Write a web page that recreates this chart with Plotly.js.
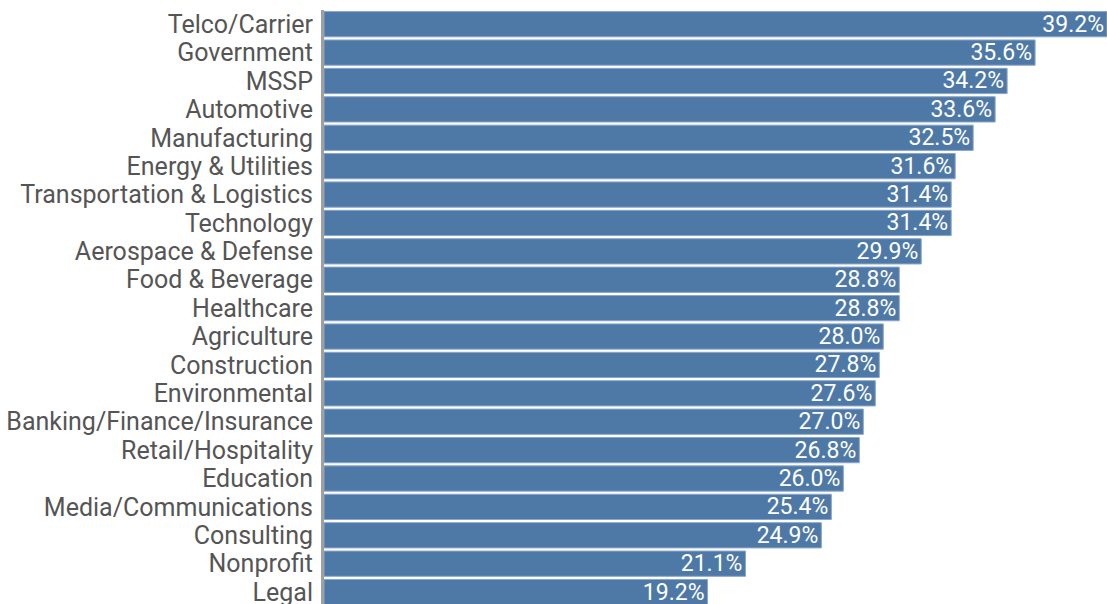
<!DOCTYPE html>
<html>
<head>
<meta charset="utf-8">
<script src="https://cdn.plot.ly/plotly-3.0.1.min.js"></script>
<style>html,body{margin:0;padding:0;background:#fff;}#chart{width:1107px;height:604px;}</style>
</head>
<body>
<div id="chart"></div>
<script>
const categories = ["Telco/Carrier","Government","MSSP","Automotive","Manufacturing","Energy & Utilities","Transportation & Logistics","Technology","Aerospace & Defense","Food & Beverage","Healthcare","Agriculture","Construction","Environmental","Banking/Finance/Insurance","Retail/Hospitality","Education","Media/Communications","Consulting","Nonprofit","Legal"];
const values = [39.2,35.6,34.2,33.6,32.5,31.6,31.4,31.4,29.9,28.8,28.8,28.0,27.8,27.6,27.0,26.8,26.0,25.4,24.9,21.1,19.2];
const labels = values.map(v => v.toFixed(1) + "%");

const FONT = "Roboto, sans-serif";

const trace = {
  type: "bar",
  orientation: "h",
  x: values,
  y: categories.map((c,i)=>i),
  text: labels,
  textposition: "inside",
  insidetextanchor: "end",
  constraintext: "none",
  textfont: {color: "#ffffff", size: 23, family: FONT},
  marker: {color: "#4e79a7", line: {color: "#8aa6c8", width: 1}},
  hoverinfo: "none",
  cliponaxis: true
};

const layout = {
  width: 1107, height: 604,
  margin: {l: 324, r: 0, t: 10, b: 0, pad: 0},
  paper_bgcolor: "#ffffff", plot_bgcolor: "#ffffff",
  bargap: 0.11,
  showlegend: false,
  xaxis: {range: [0, 39.2], showgrid: false, zeroline: false, showticklabels: false, showline: false, fixedrange: true},
  yaxis: {
    range: [20.42, -0.5],
    tickmode: "array",
    tickvals: categories.map((c,i)=>i),
    ticktext: categories,
    showgrid: false, zeroline: false,
    showline: true, linecolor: "#a0a0a0", linewidth: 3,
    ticks: "", ticklabelstandoff: 3,
    ticklabeloverflow: "allow",
    tickfont: {family: FONT, size: 25, color: "#555555"}
  },
  uniformtext: {mode: false}
};

Plotly.newPlot("chart", [trace], layout, {displayModeBar: false, staticPlot: true});
</script>
</body>
</html>
